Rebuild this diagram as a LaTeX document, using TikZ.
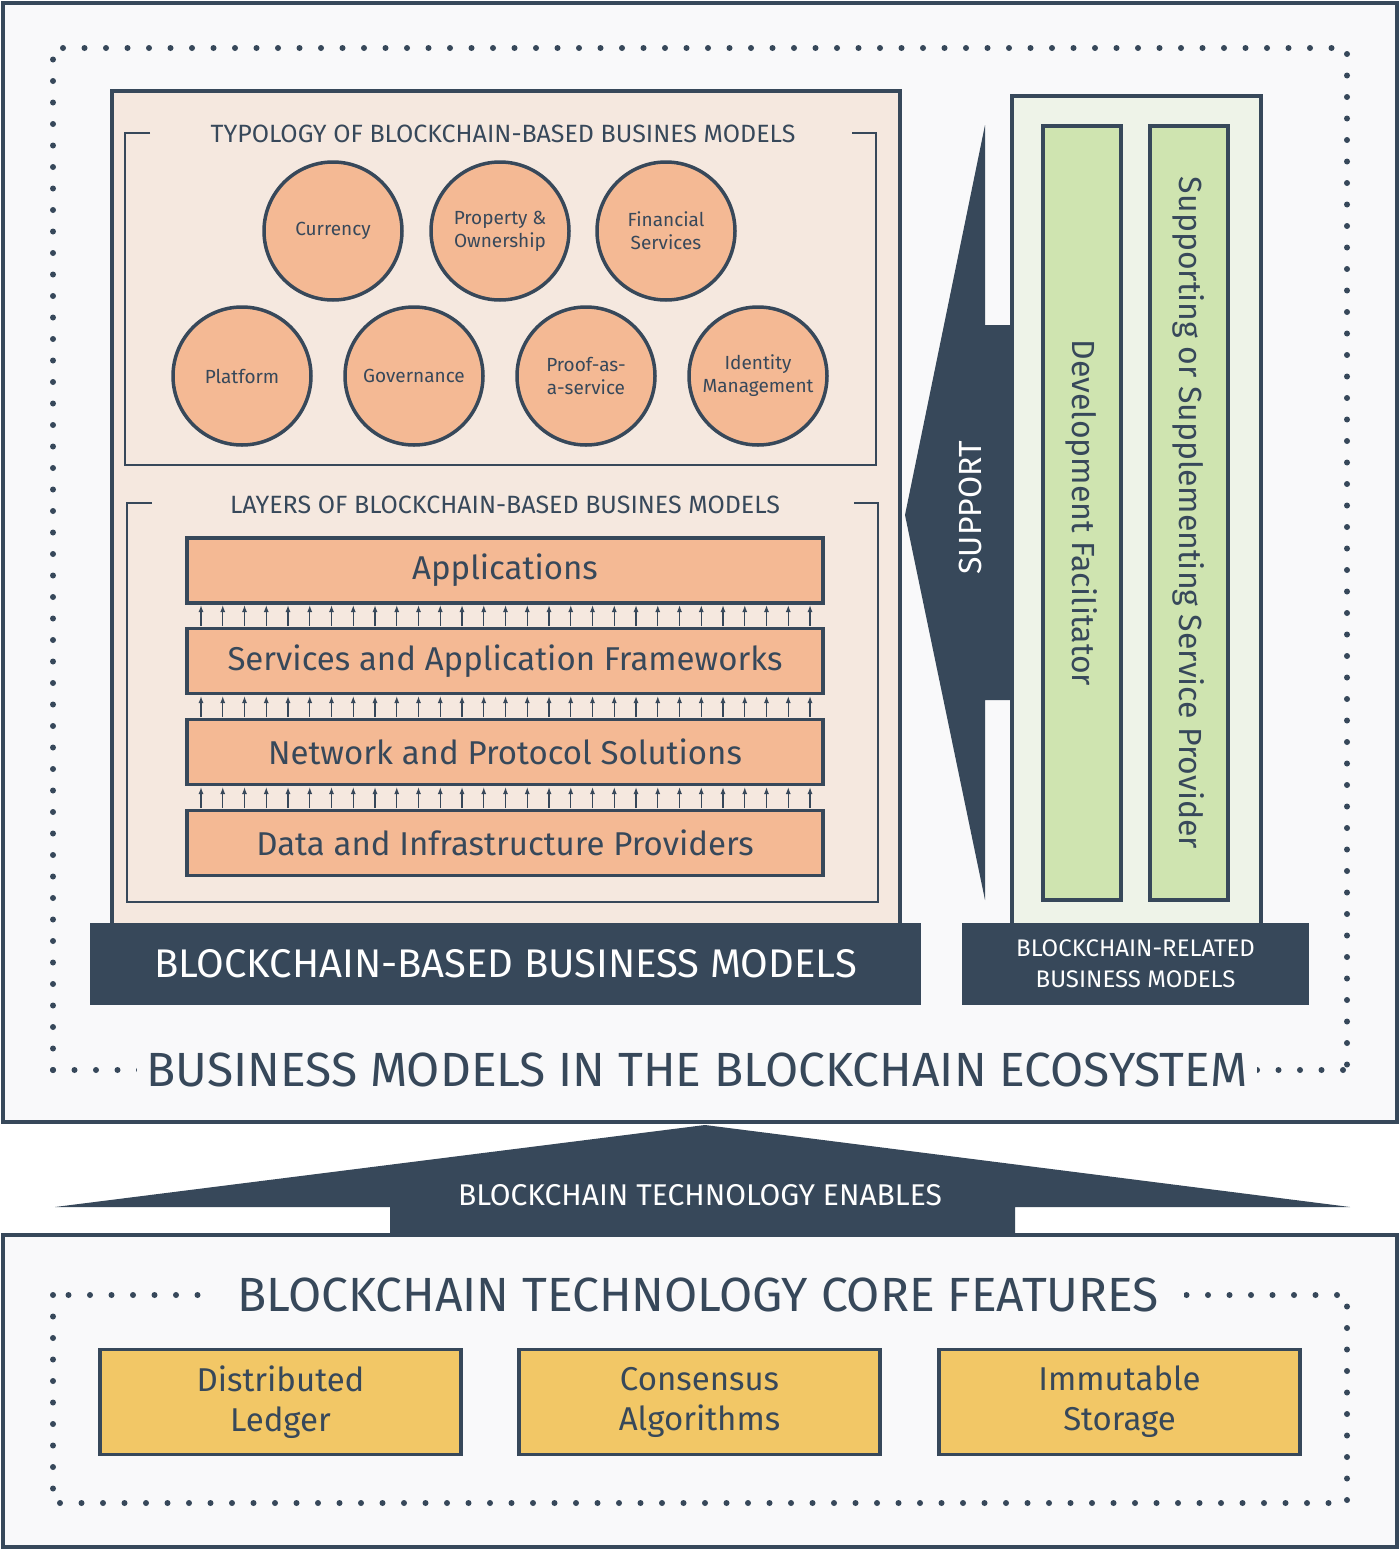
\documentclass[tikz,border=0pt]{standalone}
\usepackage{fontspec}
\setmainfont{Fira Sans}
\begin{document}
\begin{tikzpicture}[x=1pt,y=-1pt,
 dk/.style={draw=dark,line width=3.5pt},
 dots/.style={draw=dark,line width=6pt,line cap=round,dash pattern=on 0pt off 21.5pt},
 circ/.style={circle,dk,fill=peach,minimum size=138pt,inner sep=0pt,align=center,font=\fontsize{19}{23}\selectfont,text=dark},
 layer/.style={dk,fill=peach,minimum width=636pt,minimum height=65pt,inner sep=0pt,font=\fontsize{33}{38}\selectfont,text=dark},
 ybox/.style={dk,fill=ylw,minimum width=361pt,minimum height=105pt,inner sep=0pt,align=center,font=\fontsize{33}{40}\selectfont,text=dark},
 bar/.style={dk,fill=lgreen,minimum width=78pt,minimum height=774pt,inner sep=0pt},
 band/.style={fill=dark,text=white,inner sep=0pt,align=center},
 up/.style={-{Latex[length=7pt,width=5pt]},draw=dark,line width=1.3pt}]
\usetikzlibrary{arrows.meta}
\definecolor{dark}{HTML}{37485A}
\definecolor{bgc}{HTML}{F9F9FA}
\definecolor{peach}{HTML}{F4B994}
\definecolor{cream}{HTML}{F5E8DF}
\definecolor{lgreen}{HTML}{CFE4B0}
\definecolor{pgreen}{HTML}{EEF3E8}
\definecolor{ylw}{HTML}{F2C766}
\useasboundingbox (0,0) rectangle (1400,1550);
\fill[white] (0,0) rectangle (1400,1550);
% outer frames
\draw[dk,fill=bgc] (3,3) rectangle (1397,1122);
\draw[dk,fill=bgc] (3,1235) rectangle (1397,1547);
\draw[dots] (53,1070) -- (53,48) -- (1347,48) -- (1347,1070);
\draw[dots] (53,1070) -- (1347,1070);
\node[fill=bgc,inner xsep=10pt,font=\fontsize{48}{54}\selectfont,text=dark] (t1) at (697,1070) {BUSINESS MODELS IN THE BLOCKCHAIN ECOSYSTEM};
\draw[dots] (53,1295) -- (53,1503) -- (1347,1503) -- (1347,1295) -- cycle;
\node[fill=bgc,inner xsep=25pt,font=\fontsize{48}{54}\selectfont,text=dark] (t2) at (698,1295) {BLOCKCHAIN TECHNOLOGY CORE FEATURES};
% enables arrow
\fill[dark] (55,1207) -- (705,1125) -- (1350,1207) -- (1015,1207) -- (1015,1233) -- (390,1233) -- (390,1207) -- cycle;
\node[text=white,font=\fontsize{30}{34}\selectfont] (en) at (700,1195) {BLOCKCHAIN TECHNOLOGY ENABLES};
% core features
\node[ybox] (f1) at (280.5,1402) {Distributed\\Ledger};
\node[ybox] (f2) at (699.5,1402) {Consensus\\Algorithms};
\node[ybox] (f3) at (1119.5,1402) {Immutable\\Storage};
% left block
\draw[dk,fill=cream] (112,91) rectangle (900,925);
\node[band,minimum width=831pt,minimum height=82pt,font=\fontsize{40}{46}\selectfont] (bb) at (505.5,964) {BLOCKCHAIN-BASED BUSINESS MODELS};
\draw[draw=dark,line width=2.5pt] (150,133) -- (125,133) -- (125,465) -- (876,465) -- (876,133) -- (852,133);
\node[font=\fontsize{25}{30}\selectfont,text=dark] (ty) at (503,134) {TYPOLOGY OF BLOCKCHAIN-BASED BUSINES MODELS};
\draw[draw=dark,line width=2.5pt] (152,503) -- (127,503) -- (127,902) -- (878,902) -- (878,503) -- (854,503);
\node[font=\fontsize{25}{30}\selectfont,text=dark] (ly) at (505,505) {LAYERS OF BLOCKCHAIN-BASED BUSINES MODELS};
\node[circ] (c1) at (333,231) {Currency};
\node[circ] (c2) at (500,231) {Property \&\\Ownership};
\node[circ] (c3) at (666,231) {Financial\\Services};
\node[circ] (c4) at (242,376) {Platform};
\node[circ] (c5) at (414,376) {Governance};
\node[circ] (c6) at (586,376) {Proof-as-\\a-service};
\node[circ] (c7) at (758,376) {Identity\\Management};
\node[layer] (l1) at (505,570.5) {Applications};
\node[layer] (l2) at (505,661) {Services and Application Frameworks};
\node[layer] (l3) at (505,752) {Network and Protocol Solutions};
\node[layer] (l4) at (505,843) {Data and Infrastructure Providers};
\foreach \i in {0,...,28}{
  \pgfmathsetmacro{\xx}{201+21.75*\i}
  \draw[up] (\xx,626) -- (\xx,605);
  \draw[up] (\xx,717) -- (\xx,696);
  \draw[up] (\xx,808) -- (\xx,787);
}
% support arrow
\fill[dark] (985,125) -- (985,325) -- (1012,325) -- (1012,700) -- (985,700) -- (985,900) -- (905,515) -- cycle;
\node[text=white,rotate=90,font=\fontsize{32}{36}\selectfont] (sp) at (970,508) {SUPPORT};
% right block
\draw[dk,fill=pgreen] (1012,96) rectangle (1261,925);
\node[bar] (b1) at (1082,513) {};
\node[bar] (b2) at (1189,513) {};
\node[rotate=-90,font=\fontsize{32}{36}\selectfont,text=dark] at (b1) {Development Facilitator};
\node[rotate=-90,font=\fontsize{32}{36}\selectfont,text=dark] at (b2) {Supporting or Supplementing Service Provider};
\node[band,minimum width=347pt,minimum height=82pt,font=\fontsize{24}{31}\selectfont] (rb) at (1135.5,964) {BLOCKCHAIN-RELATED\\BUSINESS MODELS};
\end{tikzpicture}
\end{document}
